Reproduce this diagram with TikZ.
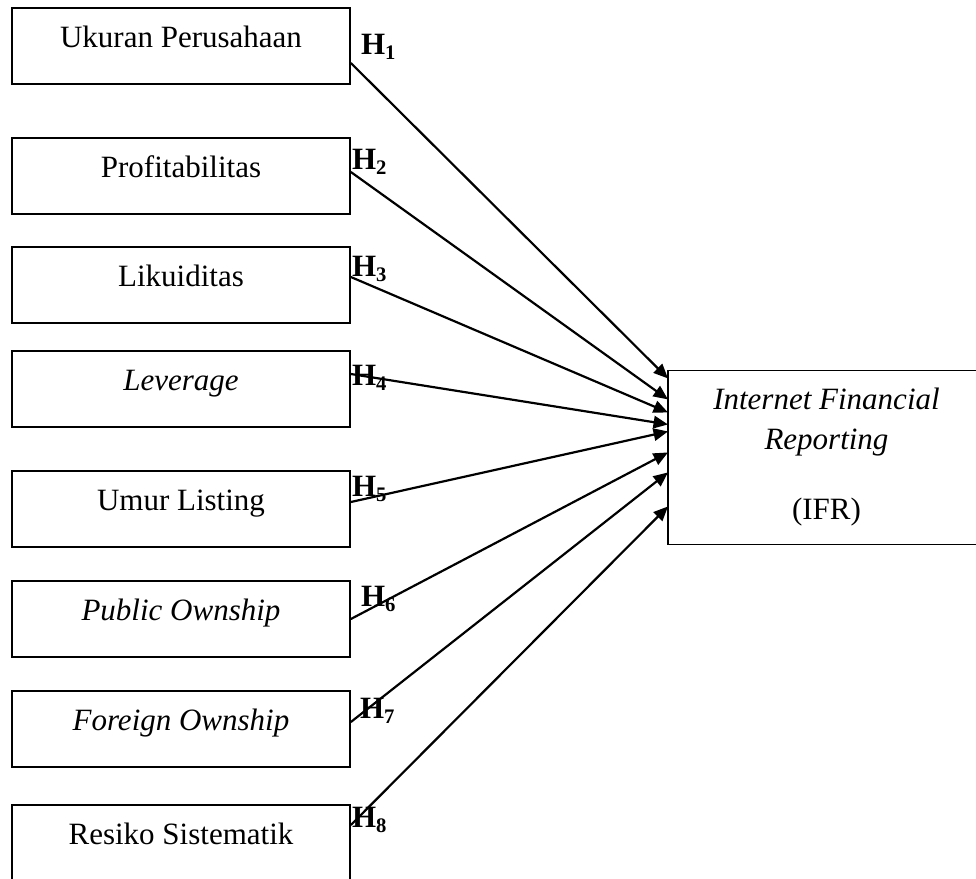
\documentclass[tikz,border=0pt]{standalone}
\usepackage{fontspec}
\setmainfont{Liberation Serif}
\usetikzlibrary{arrows.meta,calc}

\tikzstyle{var_node} = [rectangle, draw=black, line width=0.7pt, text centered, minimum width=130.8pt, inner sep=0pt, text height=15.1pt, text depth=14.3pt]
\tikzstyle{dep_node} = [rectangle, align=center, anchor=west, minimum width=122.3pt, minimum height=67pt, font=\fontsize{12}{15.5}\selectfont]
\tikzstyle{hyp_label} = [font=\fontsize{12}{14}\bfseries, inner sep=0pt]
\tikzstyle{arrow} = [line width=0.85pt, -{Triangle[length=5.6pt,width=4.8pt]}]

\begin{document}
\begin{tikzpicture}[x=0.3871pt, y=-0.3871pt, font=\fontsize{12}{14}\selectfont]
    \useasboundingbox (0,0) rectangle (976,879);
    \clip (0,0) rectangle (976,879);

    % independent variables
    \node (size)    [var_node] at (181,46)  {Ukuran Perusahaan};
    \node (profit)  [var_node] at (181,176) {Profitabilitas};
    \node (liquid)  [var_node] at (181,285) {Likuiditas};
    \node (lev)     [var_node] at (181,389) {\textit{Leverage}};
    \node (age)     [var_node] at (181,509) {Umur Listing};
    \node (public)  [var_node] at (181,619) {\textit{Public Ownship}};
    \node (foreign) [var_node] at (181,729) {\textit{Foreign Ownship}};
    \node (risk)    [var_node] at (181,843) {Resiko Sistematik};

    % dependent variable (its right side runs off the page)
    \node (ifr) [dep_node] at (668,457.5) {\textit{Internet Financial}\\ \textit{Reporting}\\[11.6pt] (IFR)};
    \draw [line width=0.7pt] ($(ifr.north east)+(30,0)$) -- (ifr.north west) -- (ifr.south west) -- ($(ifr.south east)+(30,0)$);

    \draw [arrow] ($(size.east)+(0,17)$)    -- ($(ifr.north west)+(0,8)$);
    \draw [arrow] ($(profit.east)+(0,-4)$)  -- ($(ifr.north west)+(0,29)$);
    \draw [arrow] ($(liquid.east)+(0,-8)$)  -- ($(ifr.north west)+(0,42)$);
    \draw [arrow] ($(lev.east)+(0,-15)$)    -- ($(ifr.north west)+(0,54)$);
    \draw [arrow] ($(age.east)+(0,-7)$)     -- ($(ifr.north west)+(0,61)$);
    \draw [arrow] (public.east)             -- ($(ifr.north west)+(0,82)$);
    \draw [arrow] ($(foreign.east)+(0,-7)$) -- ($(ifr.north west)+(0,102)$);
    \draw [arrow] ($(risk.east)+(0,-18)$)   -- ($(ifr.north west)+(0,136)$);

    % hypotheses
    \node (h1) [hyp_label] at (379,47)  {H\textsubscript{1}};
    \node (h2) [hyp_label] at (370,162) {H\textsubscript{2}};
    \node (h3) [hyp_label] at (370,269) {H\textsubscript{3}};
    \node (h4) [hyp_label] at (370,378) {H\textsubscript{4}};
    \node (h5) [hyp_label] at (370,489) {H\textsubscript{5}};
    \node (h6) [hyp_label] at (379,599) {H\textsubscript{6}};
    \node (h7) [hyp_label] at (378,711) {H\textsubscript{7}};
    \node (h8) [hyp_label] at (370,820) {H\textsubscript{8}};
\end{tikzpicture}
\end{document}
